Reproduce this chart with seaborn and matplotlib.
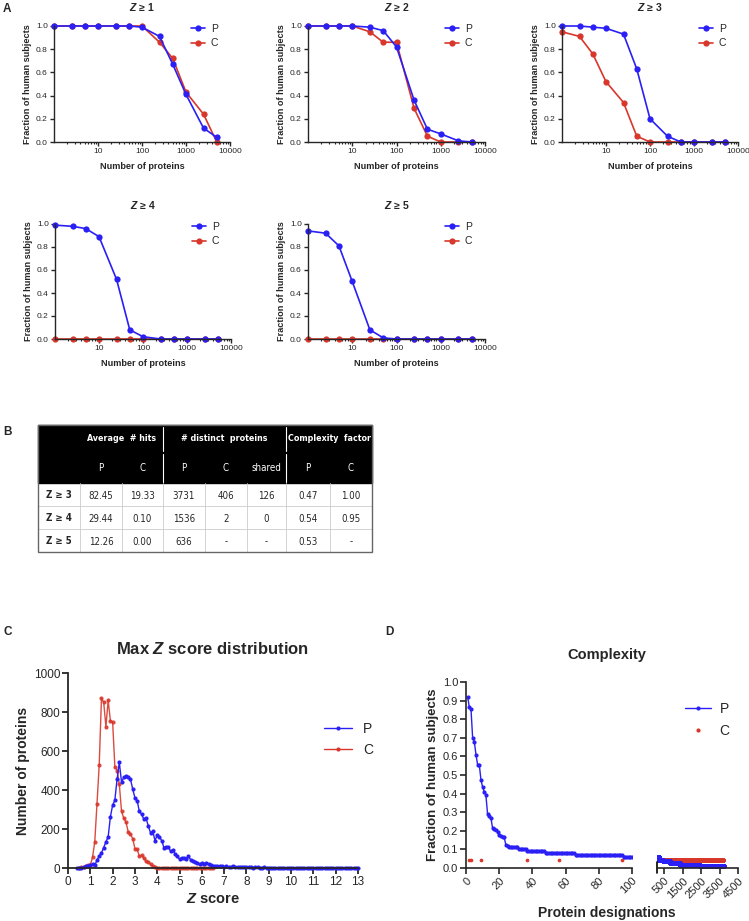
import numpy as np
import pandas as pd
import matplotlib
matplotlib.use("Agg")
import matplotlib.pyplot as plt
from matplotlib import font_manager
from matplotlib.font_manager import FontProperties
from matplotlib.lines import Line2D
from matplotlib.patches import Rectangle
import seaborn as sns

BLUE = "#2a1ff5"
RED = "#d8372b"

# ---- A: fraction of subjects vs number of proteins
n_proteins = [1, 2.5, 5, 10, 25, 50, 100, 250, 500, 1000, 2500, 5000]
p_z1 = [1.0, 1.0, 1.0, 1.0, 1.0, 1.0, 0.99, 0.91, 0.67, 0.41, 0.12, 0.04]
c_z1 = [1.0, 1.0, 1.0, 1.0, 1.0, 1.0, 1.0, 0.86, 0.72, 0.43, 0.24, 0.0]
p_z2 = [1.0, 1.0, 1.0, 1.0, 0.99, 0.96, 0.82, 0.36, 0.11, 0.07, 0.01, 0.0]
c_z2 = [1.0, 1.0, 1.0, 1.0, 0.95, 0.86, 0.86, 0.29, 0.05, 0.0, 0.0, 0.0]
p_z3 = [1.0, 1.0, 0.99, 0.98, 0.93, 0.63, 0.20, 0.05, 0.0, 0.0, 0.0, 0.0]
c_z3 = [0.95, 0.91, 0.76, 0.52, 0.34, 0.05, 0.0, 0.0, 0.0, 0.0, 0.0, 0.0]
p_z4 = [0.99, 0.98, 0.96, 0.89, 0.52, 0.08, 0.02, 0.0, 0.0, 0.0, 0.0, 0.0]
c_z4 = [0.0, 0.0, 0.0, 0.0, 0.0, 0.0, 0.0, 0.0, 0.0, 0.0, 0.0, 0.0]
p_z5 = [0.94, 0.92, 0.81, 0.50, 0.08, 0.01, 0.0, 0.0, 0.0, 0.0, 0.0, 0.0]
c_z5 = [0.0, 0.0, 0.0, 0.0, 0.0, 0.0, 0.0, 0.0, 0.0, 0.0, 0.0, 0.0]

# ---- B: table
tab_groups = ["Average  # hits", "# distinct  proteins", "Complexity  factor"]
tab_subcols = ["P", "C", "P", "C", "shared", "P", "C"]
tab_rows = ["Z ≥ 3", "Z ≥ 4", "Z ≥ 5"]
row_z3 = ["82.45", "19.33", "3731", "406", "126", "0.47", "1.00"]
row_z4 = ["29.44", "0.10", "1536", "2", "0", "0.54", "0.95"]
row_z5 = ["12.26", "0.00", "636", "-", "-", "0.53", "-"]

# ---- C: max Z score distribution (bins of 0.1)
z_bins_p = np.round(np.arange(0.4, 13.01, 0.1), 1)
count_p = [0, 0, 2, 5, 8, 12, 15,
           20, 14, 40, 62, 77, 105, 134, 160, 262, 322,
           348, 456, 542, 440, 465, 470, 468, 455, 405, 360,
           345, 290, 275, 250, 255, 215, 180, 190, 140, 170,
           160, 140, 105, 110, 108, 85, 92, 72, 60, 45,
           52, 50, 48, 60, 42, 35, 30, 25, 20, 25,
           20, 28, 20, 15, 12, 10, 8, 10, 8, 5,
           8, 6, 5, 8, 6, 5, 3, 6, 4, 4,
           3, 4, 2, 3, 3, 2, 2, 3, 2, 2,
           2, 1, 2, 1, 1, 2, 1, 1, 1, 1,
           1, 1, 0, 1, 1, 0, 1, 0, 1, 0,
           0, 1, 0, 0, 1, 0, 0, 0, 1, 0,
           0, 0, 1, 0, 0, 0, 0, 0, 0, 1]
z_bins_c = np.round(np.arange(0.5, 6.51, 0.1), 1)
count_c = [0, 3, 5, 10, 15, 15,
           55, 135, 330, 530, 870, 850, 725, 860, 755, 750,
           520, 500, 430, 290, 255, 235, 185, 175, 150, 100,
           95, 60, 65, 50, 35, 30, 20, 8, 3, 2,
           1, 1, 0, 0, 0, 0, 0, 0, 0, 0,
           0, 0, 0, 0, 0, 0, 0, 0, 0, 0,
           0, 0, 0, 0, 0]

# ---- D: complexity (fraction of subjects per ranked protein)
p_top_rank = list(range(1, 26))
p_top_frac = [0.92, 0.865, 0.855, 0.70, 0.68, 0.61, 0.555, 0.555, 0.475, 0.435,
              0.41, 0.39, 0.29, 0.28, 0.27, 0.215, 0.21, 0.205, 0.195, 0.18,
              0.17, 0.165, 0.165, 0.125, 0.12]
# flat runs: (first rank, last rank, fraction)
p_runs = [(26, 31, 0.112), (32, 36, 0.104), (37, 47, 0.093), (48, 65, 0.082),
          (66, 94, 0.07), (95, 200, 0.058), (201, 440, 0.045), (441, 800, 0.036),
          (801, 1350, 0.027), (1351, 2440, 0.018), (2441, 3731, 0.009)]
c_rank = [2, 3, 9, 37, 56, 94]
c_frac = [0.045, 0.045, 0.045, 0.045, 0.045, 0.045]
c_runs = [(330, 3700, 0.045)]

W, H = 749, 921
sns.set_style("ticks")
plt.rcParams["font.family"] = ["Liberation Sans", "DejaVu Sans"]
plt.rcParams["mathtext.fontset"] = "custom"
plt.rcParams["mathtext.rm"] = "Liberation Sans"
plt.rcParams["mathtext.it"] = "Liberation Sans:italic"
plt.rcParams["mathtext.bf"] = "Liberation Sans:bold"
plt.rcParams["mathtext.bfit"] = "Liberation Sans:italic:bold"

# the table uses a condensed face if one is installed
font_files = [f.fname for f in font_manager.fontManager.ttflist]


def find_font(*keys):
    for k in keys:
        for fn in font_files:
            if fn.endswith(k):
                return fn
    return None


narrow_reg = find_font("LiberationSansNarrow-Regular.ttf", "DejaVuSansCondensed.ttf")
narrow_bold = find_font("LiberationSansNarrow-Bold.ttf", "DejaVuSansCondensed-Bold.ttf")
if narrow_reg and narrow_bold:
    fp_reg = FontProperties(fname=narrow_reg, size=7)
    fp_bold = FontProperties(fname=narrow_bold, size=7)
    fp_head = FontProperties(fname=narrow_bold, size=6.4)
else:
    fp_reg = FontProperties(family="Liberation Sans", size=6.8)
    fp_bold = FontProperties(family="Liberation Sans", weight="bold", size=6.8)
    fp_head = FontProperties(family="Liberation Sans", weight="bold", size=6.6)

fig = plt.figure(figsize=(W / 100, H / 100), dpi=100)


def px_axes(left, top, right, bottom):
    return fig.add_axes([left / W, 1 - bottom / H, (right - left) / W, (bottom - top) / H])


def style_axes(ax, lw, tl, fs):
    sns.despine(ax=ax)
    for s in ["left", "bottom"]:
        ax.spines[s].set_linewidth(lw)
    ax.tick_params(which="major", length=tl, width=lw, labelsize=fs, pad=1.5)
    ax.tick_params(which="minor", length=tl * 0.55, width=lw * 0.8)


def expand_runs(runs):
    xs, ys = [], []
    for a, b, v in runs:
        xs += list(range(a, b + 1))
        ys += [v] * (b - a + 1)
    return xs, ys


# ---------------- panel A
a_boxes = [(54, 26, 230, 142), (308, 26, 485, 142), (562, 26, 738, 142),
           (55, 224, 231, 339), (308, 224, 485, 339)]
a_series = [(p_z1, c_z1), (p_z2, c_z2), (p_z3, c_z3), (p_z4, c_z4), (p_z5, c_z5)]
for k, (box, (p, c)) in enumerate(zip(a_boxes, a_series)):
    ax = px_axes(*box)
    ax.set_xscale("log")
    df = pd.DataFrame({"n": n_proteins * 2, "frac": c + p,
                       "grp": ["C"] * len(c) + ["P"] * len(p)})
    sns.lineplot(data=df, x="n", y="frac", hue="grp", hue_order=["C", "P"],
                 palette={"P": BLUE, "C": RED}, estimator=None, marker="o",
                 markersize=4.5, markeredgewidth=0, linewidth=1.2,
                 legend=False, clip_on=False, ax=ax)
    ax.set_xlim(1, 10000)
    ax.set_ylim(0, 1.0)
    ax.set_xticks([10, 100, 1000, 10000], ["10", "100", "1000", "10000"])
    ax.set_yticks(np.arange(0, 1.01, 0.2), [f"{v:.1f}" for v in np.arange(0, 1.01, 0.2)])
    style_axes(ax, 1.0, 3, 6)
    ax.set_xlabel("Number of proteins", fontsize=6.6, fontweight="bold", labelpad=5)
    ax.set_ylabel("Fraction of human subjects", fontsize=6.6, fontweight="bold", labelpad=3)
    ax.set_title(r"$\mathbfit{Z}$ ≥ " + str(k + 1), fontsize=7.5, fontweight="bold", pad=11)
    handles = [Line2D([], [], color=BLUE, marker="o", ms=4.5, mew=0, lw=1.2),
               Line2D([], [], color=RED, marker="o", ms=4.5, mew=0, lw=1.2)]
    ax.legend(handles, ["P", "C"], loc="upper left", frameon=False, fontsize=7.5,
              bbox_to_anchor=((box[0] + 137) / W, 1 - (box[1] - 2) / H),
              bbox_transform=fig.transFigure, borderpad=0, borderaxespad=0,
              handlelength=1.3, handletextpad=0.6, labelspacing=0.4)

# ---------------- overlay for table and panel letters
ov = fig.add_axes([0, 0, 1, 1])
ov.set_xlim(0, W)
ov.set_ylim(H, 0)
ov.axis("off")
ov.patch.set_alpha(0)

for lab, (x, y) in zip("ABCD", [(3, 3), (3, 426), (3, 626), (385, 626)]):
    ov.text(x, y, lab, fontsize=8.5, fontweight="bold", va="top", ha="left")

col_edges = [38, 80, 122, 163, 205, 247, 286, 330, 372]
head_top, head_bot = 425, 483
row_edges = [483, 506, 529, 552]
ov.add_patch(Rectangle((38, head_top), 334, head_bot - head_top, color="black", zorder=1))
for xs in [163, 286]:
    ov.plot([xs, xs], [427, 451], color="white", lw=0.8, zorder=2)
    ov.plot([xs, xs], [454, 482], color="white", lw=0.8, zorder=2)
for g, (a, b) in zip(tab_groups, [(80, 163), (163, 286), (286, 372)]):
    ov.text((a + b) / 2, 438, g, color="white", fontproperties=fp_head,
            ha="center", va="center", zorder=3)
for j, s in enumerate(tab_subcols):
    ov.text((col_edges[j + 1] + col_edges[j + 2]) / 2, 468, s, color="white",
            fontproperties=fp_reg, ha="center", va="center", zorder=3)
for x in col_edges[1:-1]:
    ov.plot([x, x], [head_bot, row_edges[-1]], color="#cccccc", lw=0.6, zorder=1)
for y in row_edges[1:-1]:
    ov.plot([38, 372], [y, y], color="#cccccc", lw=0.6, zorder=1)
ov.add_patch(Rectangle((38, head_top), 334, row_edges[-1] - head_top, fill=False,
                       edgecolor="#666666", lw=1.0, zorder=4))
for i, (lab, vals) in enumerate(zip(tab_rows, [row_z3, row_z4, row_z5])):
    yc = (row_edges[i] + row_edges[i + 1]) / 2
    ov.text(59, yc, lab, fontproperties=fp_bold, ha="center", va="center")
    for j, v in enumerate(vals):
        ov.text((col_edges[j + 1] + col_edges[j + 2]) / 2, yc + 1, v,
                fontproperties=fp_reg, ha="center", va="center")

# ---------------- panel C
axc = px_axes(68, 673, 358, 868)
sns.lineplot(x=z_bins_c, y=count_c, color=RED, marker="o", markersize=3,
             markeredgewidth=0, linewidth=1.0, alpha=0.9, clip_on=False, ax=axc)
sns.lineplot(x=z_bins_p, y=count_p, color=BLUE, marker="o", markersize=3,
             markeredgewidth=0, linewidth=1.0, clip_on=False, ax=axc)
axc.set_xlim(0, 13)
axc.set_ylim(0, 1000)
axc.set_xticks(range(0, 14))
axc.set_yticks(range(0, 1001, 200))
style_axes(axc, 1.3, 4, 8.5)
axc.set_title(r"Max $\mathbfit{Z}$ score distribution", fontsize=12, fontweight="bold", pad=14)
axc.set_xlabel(r"$\mathbfit{Z}$ score", fontsize=10.5, fontweight="bold", labelpad=3)
axc.set_ylabel("Number of proteins", fontsize=10, fontweight="bold", labelpad=3)
handles = [Line2D([], [], color=BLUE, marker="o", ms=3, mew=0, lw=1.0),
           Line2D([], [], color=RED, marker="o", ms=3, mew=0, lw=1.0)]
axc.legend(handles, ["P", "C"], loc="upper left", frameon=False, fontsize=10,
           bbox_to_anchor=(324 / W, 1 - 722 / H), bbox_transform=fig.transFigure,
           borderpad=0, borderaxespad=0, handlelength=2.0, handletextpad=0.8,
           labelspacing=0.5)

# ---------------- panel D (broken x axis)
p_run_x, p_run_y = expand_runs(p_runs)
p_all_x = p_top_rank + p_run_x
p_all_y = p_top_frac + p_run_y
c_run_x, c_run_y = expand_runs(c_runs)
c_all_x = c_rank + c_run_x
c_all_y = c_frac + c_run_y

axd1 = px_axes(466, 682, 632, 868)
axd2 = px_axes(657, 682, 738, 868)
for ax in [axd1, axd2]:
    sns.lineplot(x=p_all_x, y=p_all_y, color=BLUE, marker="o", markersize=3,
                 markeredgewidth=0, linewidth=1.0, estimator=None, ax=ax)
    sns.scatterplot(x=c_all_x, y=c_all_y, color=RED, s=7, linewidth=0, ax=ax)
    ax.set_ylim(0, 1.0)
    style_axes(ax, 1.2, 4, 8)
axd1.set_xlim(0, 100)
axd2.set_xlim(100, 4500)
axd1.set_xticks(range(0, 101, 20))
axd2.set_xticks([500, 1500, 2500, 3500, 4500])
axd1.set_yticks(np.arange(0, 1.01, 0.1), [f"{v:.1f}" for v in np.arange(0, 1.01, 0.1)])
axd2.set_yticks([])
axd2.spines["left"].set_visible(False)
axd2.plot([0, 0], [-0.025, 0.03], transform=axd2.transAxes, color="black",
          lw=1.2, clip_on=False)
for ax in [axd1, axd2]:
    plt.setp(ax.get_xticklabels(), rotation=45, ha="right", rotation_mode="anchor")
axd1.set_ylabel("Fraction of human subjects", fontsize=9.5, fontweight="bold", labelpad=3)
fig.text(607 / W, 1 - 655 / H, "Complexity", fontsize=10.5, fontweight="bold",
         ha="center", va="center")
fig.text(607 / W, 1 - 913 / H, "Protein designations", fontsize=10, fontweight="bold",
         ha="center", va="center")
handles = [Line2D([], [], color=BLUE, marker="o", ms=3, mew=0, lw=1.0),
           Line2D([], [], color=RED, marker="o", ms=3, mew=0, lw=0)]
axd2.legend(handles, ["P", "C"], loc="upper left", frameon=False, fontsize=10,
            bbox_to_anchor=(685 / W, 1 - 702 / H), bbox_transform=fig.transFigure,
            borderpad=0, borderaxespad=0, handlelength=1.9, handletextpad=0.6,
            labelspacing=0.6)

fig.savefig("out.png", dpi=100)
